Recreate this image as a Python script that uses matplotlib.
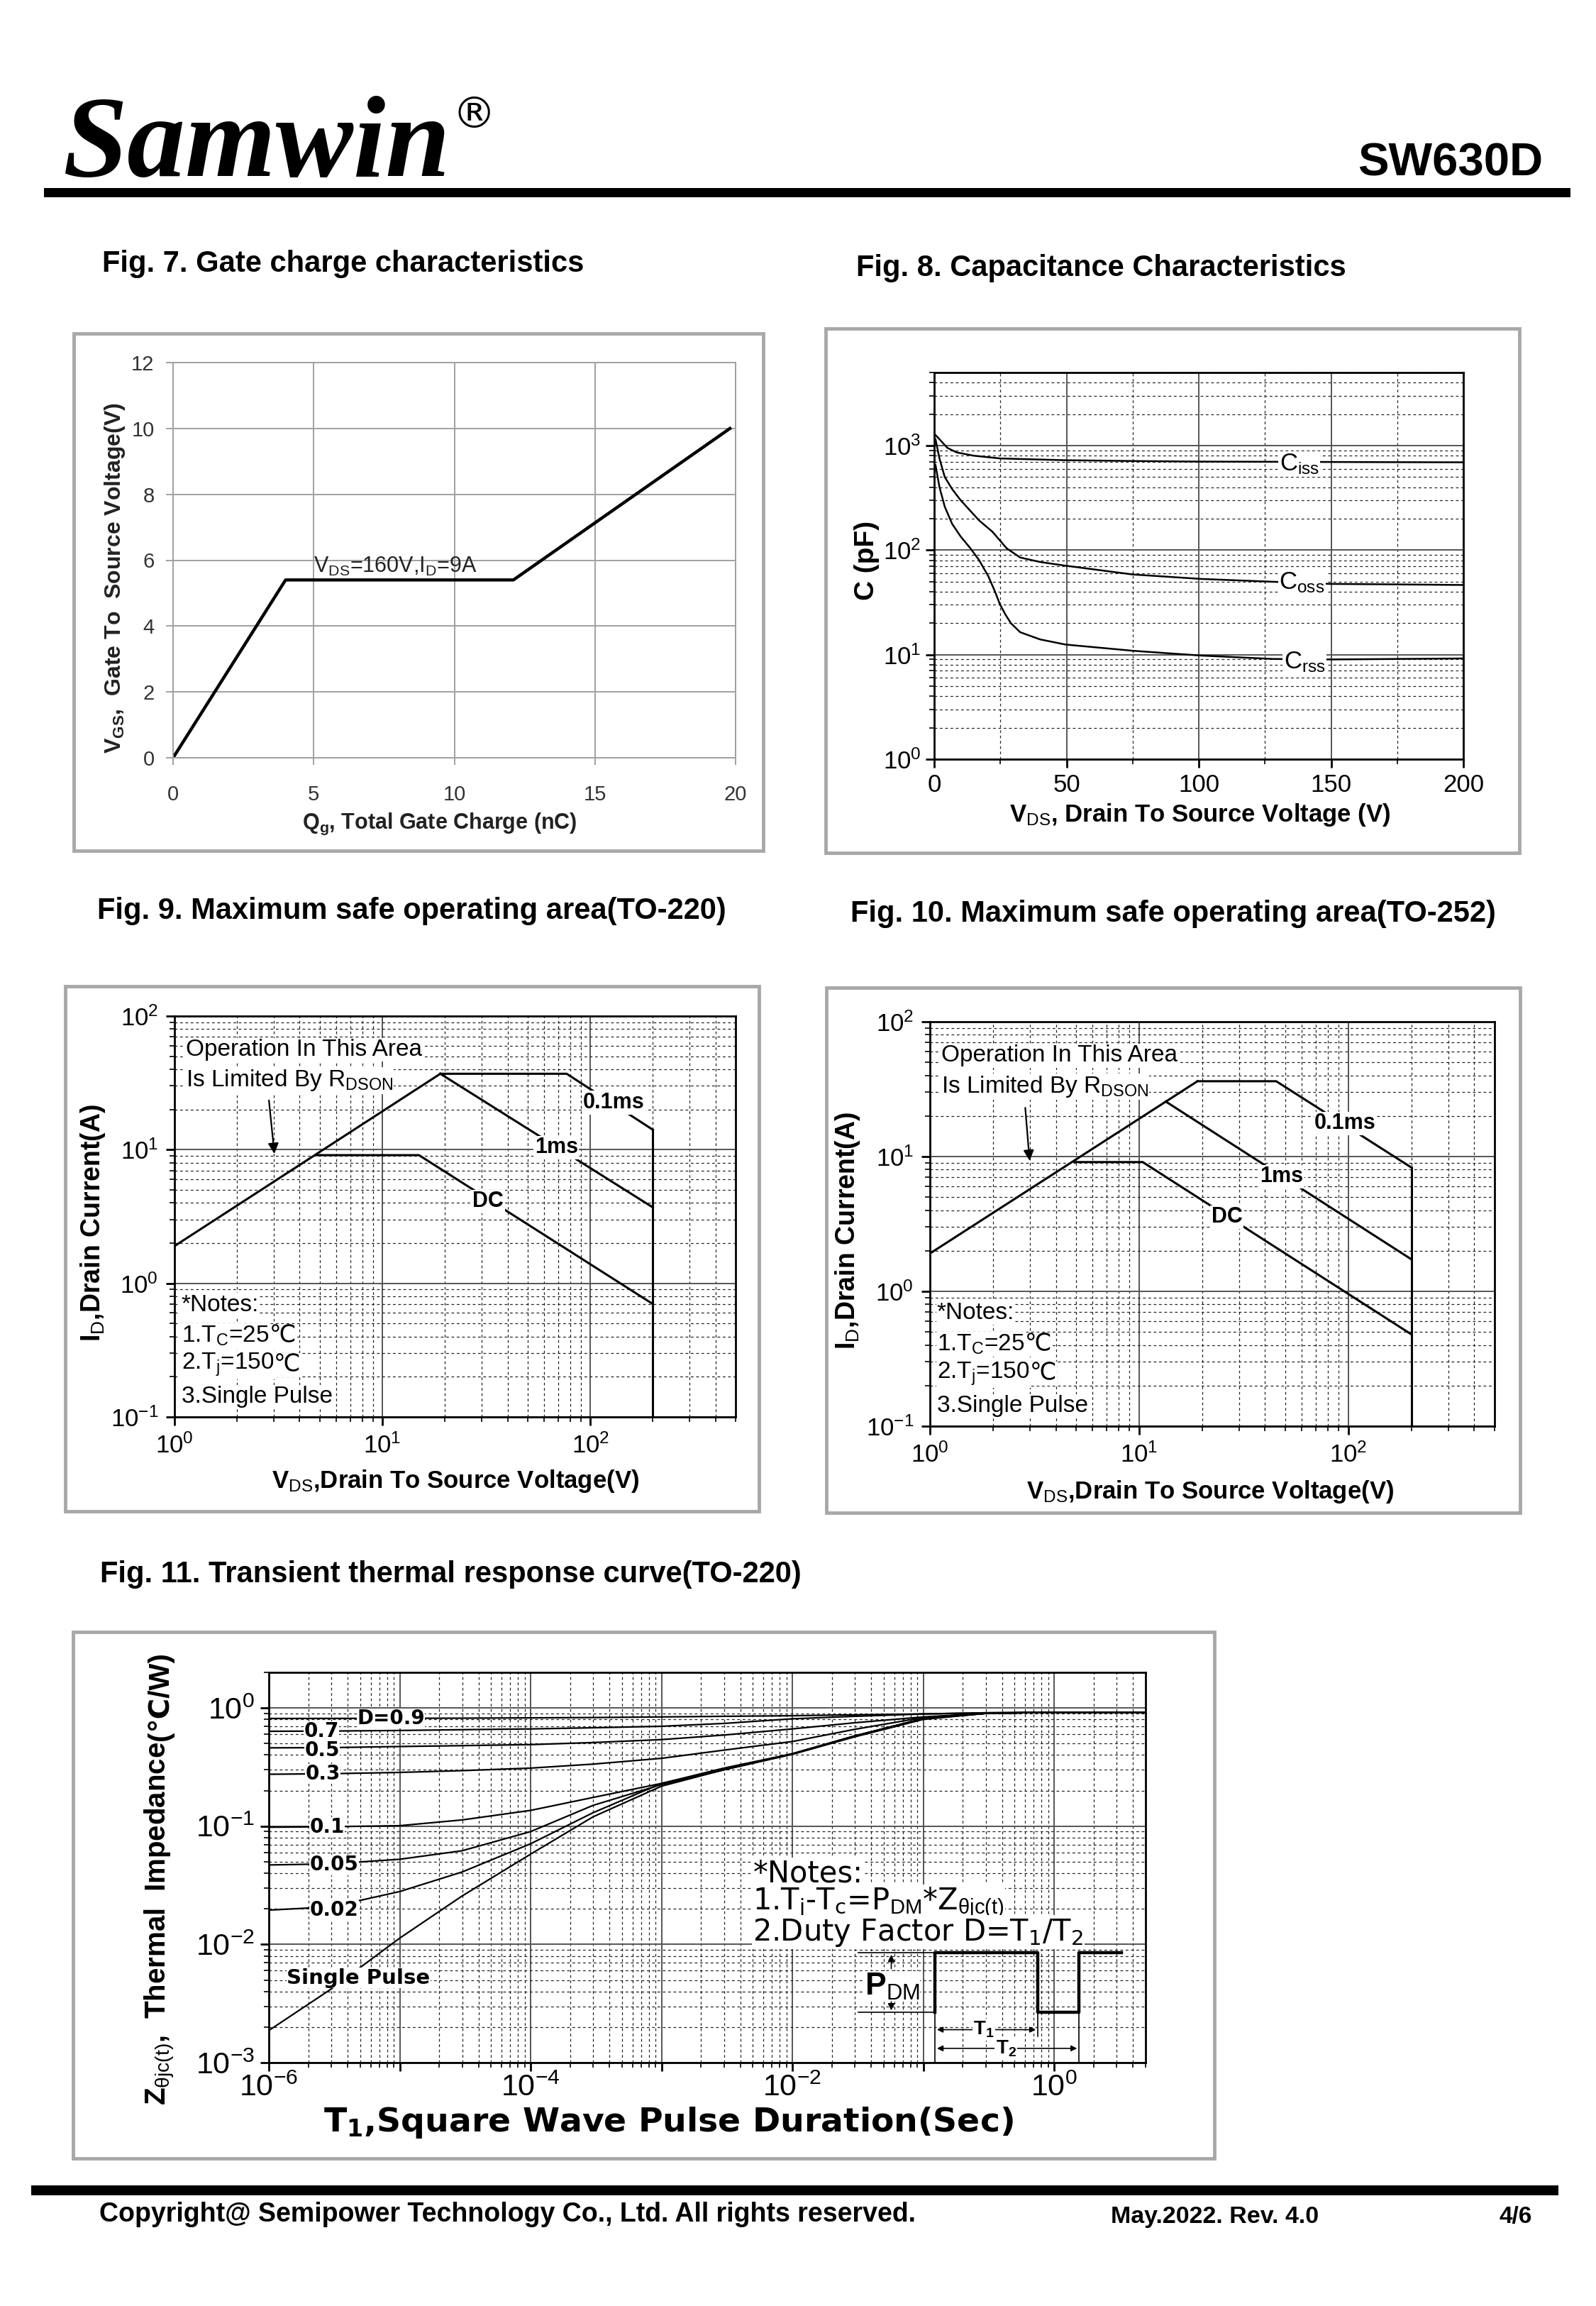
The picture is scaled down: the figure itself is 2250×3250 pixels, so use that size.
import numpy as np
import matplotlib
matplotlib.use('Agg')
import matplotlib.pyplot as plt
from matplotlib.patches import Rectangle
from matplotlib.ticker import LogLocator, NullFormatter, MultipleLocator

# ---- data ----
# Fig. 7 gate charge
qg = [0, 4.0, 12.1, 19.8]
vgs = [0, 5.4, 5.4, 10.0]

# Fig. 8 capacitance (V, pF)
ciss_v = [0.5, 2, 5, 8.5, 15, 25, 50, 75, 100, 130, 150, 175, 200]
ciss_c = [1260, 1150, 950, 860, 800, 753, 724, 712, 703, 700, 697, 694, 692]
coss_v = [0.5, 2, 4, 6.8, 10, 17, 22, 27.4, 32.5, 40, 49.6, 75, 101, 126.5, 150, 175, 200]
coss_c = [1150, 750, 500, 383, 300, 192, 150, 104, 85, 77, 71, 58.5, 53, 50, 47.5, 47, 46.4]
crss_v = [0.5, 2, 4, 6.8, 10, 13.7, 17, 20.5, 23, 24.8, 27, 29, 32.5, 40, 49.6, 75, 101, 128, 150, 175, 200]
crss_c = [650, 400, 260, 178, 135, 104, 80, 56, 40, 30.5, 24, 20, 16.4, 14, 12.5, 10.9, 9.8, 9.1, 9.0, 9.1, 9.2]

# Fig. 9 SOA TO-220 (V, A)
s9_rds_v, s9_rds_i = [1, 19], [1.9, 37]
s9_p01_v, s9_p01_i = [19, 77, 200], [37, 37, 14.1]
s9_p1_v, s9_p1_i = [19, 200], [37, 3.7]
s9_dc_v, s9_dc_i = [4.8, 15, 200], [9.1, 9.1, 0.7]

# Fig. 10 SOA TO-252 (V, A)
s10_rds_v, s10_rds_i = [1, 19], [1.91, 36.2]
s10_p01_v, s10_p01_i = [19, 45.2, 200], [36.2, 36.2, 8.3]
s10_p1_v, s10_p1_i = [13.4, 200], [25.6, 1.73]
s10_dc_v, s10_dc_i = [4.9, 10.4, 200], [9.1, 9.1, 0.48]

# Fig. 11 transient thermal impedance
t_pulse = [1e-6, 3e-6, 1e-5, 3e-5, 1e-4, 3e-4, 1e-3, 3e-3, 1e-2, 3e-2, 1e-1, 3e-1, 1, 5]
z_d09 = [0.815, 0.816, 0.818, 0.82, 0.825, 0.83, 0.84, 0.85, 0.86, 0.875, 0.89, 0.91, 0.92, 0.92]
z_d07 = [0.635, 0.638, 0.645, 0.655, 0.665, 0.68, 0.70, 0.74, 0.81, 0.85, 0.89, 0.91, 0.92, 0.92]
z_d05 = [0.46, 0.462, 0.472, 0.48, 0.49, 0.51, 0.54, 0.59, 0.665, 0.75, 0.84, 0.90, 0.92, 0.92]
z_d03 = [0.275, 0.278, 0.285, 0.295, 0.31, 0.335, 0.375, 0.44, 0.52, 0.66, 0.83, 0.90, 0.92, 0.92]
z_d01 = [0.098, 0.099, 0.101, 0.113, 0.136, 0.175, 0.23, 0.31, 0.41, 0.58, 0.815, 0.90, 0.92, 0.92]
z_d005 = [0.047, 0.048, 0.0525, 0.062, 0.090, 0.15, 0.225, 0.30, 0.41, 0.58, 0.81, 0.90, 0.92, 0.92]
z_d002 = [0.0195, 0.0208, 0.028, 0.041, 0.071, 0.13, 0.23, 0.30, 0.41, 0.58, 0.81, 0.90, 0.92, 0.92]
z_single = [0.00187, 0.0042, 0.0113, 0.0257, 0.058, 0.12, 0.218, 0.30, 0.405, 0.57, 0.80, 0.90, 0.92, 0.92]
z_curves = [z_d09, z_d07, z_d05, z_d03, z_d01, z_d005, z_d002, z_single]
z_names = ['D=0.9', '0.7', '0.5', '0.3', '0.1', '0.05', '0.02', 'Single Pulse']
z_label_t = [4.7e-6, 1.85e-6, 1.87e-6, 1.9e-6, 2.05e-6, 2.05e-6, 2.05e-6, 1.37e-6]
z_label_z = [0.813, 0.634, 0.44, 0.277, 0.098, 0.047, 0.0195, 0.0052]

z_xticks = [1e-6, 1e-5, 1e-4, 1e-3, 1e-2, 1e-1, 1]
z_xticklabels = ['$10^{-6}$', '', '$10^{-4}$', '', '$10^{-2}$', '', '$10^{0}$']
z_yticks = [1e-3, 1e-2, 1e-1, 1]
z_yticklabels = ['$10^{-3}$', '$10^{-2}$', '$10^{-1}$', '$10^{0}$']

# ---- fonts ----
plt.rcParams['font.family'] = ['Liberation Sans', 'DejaVu Sans']
plt.rcParams['mathtext.fontset'] = 'custom'
plt.rcParams['mathtext.rm'] = 'Liberation Sans'
plt.rcParams['mathtext.bf'] = 'Liberation Sans:bold'
plt.rcParams['mathtext.it'] = 'Liberation Sans:italic'
plt.rcParams['mathtext.default'] = 'regular'

W, H = 2250, 3250
fig = plt.figure(figsize=(W / 100, H / 100), dpi=100)


def fx(x):
    return x / W


def fy(y):
    return 1 - y / H


def add_ax(l, t, r, b):
    return fig.add_axes([l / W, 1 - b / H, (r - l) / W, (b - t) / H])


def frame(l, t, r, b):
    fig.add_artist(Rectangle((l / W, 1 - b / H), (r - l) / W, (b - t) / H,
                             transform=fig.transFigure, fill=False, ec='#a8a8a8', lw=3.5))


def log_grid(ax, xlog=True):
    ax.grid(True, which='major', color='#555555', lw=1.4, ls='-')
    ax.grid(True, which='minor', color='#222222', lw=0.9, ls=(0, (3, 3)))
    ax.set_axisbelow(True)
    for s in ax.spines.values():
        s.set_linewidth(2)
    ax.yaxis.set_minor_locator(LogLocator(base=10, subs=np.arange(2, 10), numticks=30))
    ax.yaxis.set_minor_formatter(NullFormatter())
    if xlog:
        ax.xaxis.set_minor_locator(LogLocator(base=10, subs=np.arange(2, 10), numticks=30))
        ax.xaxis.set_minor_formatter(NullFormatter())
    ax.tick_params(which='minor', length=5, width=1.2)
    ax.tick_params(which='major', length=8.5, width=2)


white = dict(fc='white', ec='none', pad=1.0)
tight = dict(fc='white', ec='none', pad=0.2)

# ---- header ----
fig.text(fx(88), fy(248), 'Samwin', family='Liberation Serif', weight='bold', style='italic',
         fontsize=118, ha='left', va='baseline')
fig.text(fx(638), fy(180), '®', family='DejaVu Sans', fontsize=44, ha='left', va='baseline')
fig.text(fx(2175), fy(247), 'SW630D', weight='bold', fontsize=47, ha='right', va='baseline')
fig.add_artist(Rectangle((fx(62), fy(278)), (2214 - 62) / W, 13 / H, transform=fig.transFigure,
                         fc='black', ec='none'))

# ---- titles ----
fig.text(fx(144), fy(372), 'Fig. 7. Gate charge characteristics', weight='bold', fontsize=30, va='center')
fig.text(fx(1207), fy(378), 'Fig. 8. Capacitance Characteristics', weight='bold', fontsize=30, va='center')
fig.text(fx(137), fy(1284), 'Fig. 9. Maximum safe operating area(TO-220)', weight='bold', fontsize=30, va='center')
fig.text(fx(1199), fy(1288), 'Fig. 10. Maximum safe operating area(TO-252)', weight='bold', fontsize=30, va='center')
fig.text(fx(141), fy(2219), 'Fig. 11. Transient thermal response curve(TO-220)', weight='bold', fontsize=30, va='center')

# ---- Fig. 7 ----
frame(104, 470, 1076, 1199)
ax7 = add_ax(244, 511, 1037, 1068)
ax7.plot(qg, vgs, color='black', lw=3.2)
ax7.set_xlim(0, 20)
ax7.set_ylim(0, 12)
ax7.set_xticks([0, 5, 10, 15, 20])
ax7.set_yticks([0, 2, 4, 6, 8, 10, 12])
ax7.grid(True, color='#a0a0a0', lw=1.4)
ax7.set_axisbelow(True)
for s in ax7.spines.values():
    s.set_color('#a0a0a0')
    s.set_linewidth(1.4)
ax7.tick_params(length=7, width=1.4, color='#a0a0a0', labelsize=21, labelcolor='#333333')
ax7.tick_params(axis='y', pad=12)
ax7.tick_params(axis='x', pad=20)
ax7.text(5.0, 5.62, 'V$_{DS}$=160V,I$_{D}$=9A', fontsize=22, color='#222222', va='baseline')
fig.text(fx(162), fy(815), 'V$_{GS}$,  Gate To  Source Voltage(V)', rotation=90, weight='bold',
         fontsize=23, color='#222222', ha='center', va='center')
fig.text(fx(620), fy(1168), 'Q$_{g}$, Total Gate Charge (nC)', weight='bold', fontsize=22,
         color='#222222', ha='center', va='baseline')

# ---- Fig. 8 ----
frame(1164, 463, 2142, 1202)
ax8 = add_ax(1317, 525, 2063, 1070)
ax8.set_yscale('log')
ax8.plot(ciss_v, ciss_c, color='black', lw=1.8)
ax8.plot(coss_v, coss_c, color='black', lw=1.8)
ax8.plot(crss_v, crss_c, color='black', lw=1.8)
ax8.set_xlim(0, 200)
ax8.set_ylim(1, 5000)
ax8.set_xticks([0, 50, 100, 150, 200])
ax8.xaxis.set_minor_locator(MultipleLocator(25))
ax8.set_yticks([1, 10, 100, 1000])
log_grid(ax8, xlog=False)
ax8.tick_params(which='major', labelsize=25)
ax8.tick_params(axis='y', pad=5)
ax8.tick_params(axis='x', pad=6)
ax8.text(138, 665, 'C$_{\\rm iss}$', fontsize=25, ha='center', va='center', bbox=white)
ax8.text(139, 49, 'C$_{\\rm oss}$', fontsize=25, ha='center', va='center', bbox=white)
ax8.text(140, 8.45, 'C$_{\\rm rss}$', fontsize=25, ha='center', va='center', bbox=white)
fig.text(fx(1222), fy(790), 'C (pF)', rotation=90, weight='bold', fontsize=28, ha='center', va='center')
fig.text(fx(1692), fy(1158), 'V$_{\\rm DS}$, Drain To Source Voltage (V)', weight='bold', fontsize=25,
         ha='center', va='baseline')


# ---- Fig. 9 / Fig. 10 ----
def deg_text(ax, x, y, txt, size):
    # the degree Celsius sign stays plain text so the font fallback can find it
    t = ax.text(x, y, txt, fontsize=size, va='center', bbox=white)
    ax.annotate('℃', xy=(1, 0.5), xycoords=t, fontsize=size, ha='left', va='center', bbox=white)


def soa(ax, rds_v, rds_i, p01_v, p01_i, p1_v, p1_i, dc_v, dc_i, lab01, lab1, labdc, arrow):
    ax.set_xscale('log')
    ax.set_yscale('log')
    for xv, yv in [(rds_v, rds_i), (p01_v, p01_i), (p1_v, p1_i), (dc_v, dc_i)]:
        ax.plot(xv, yv, color='black', lw=2.2)
    ax.plot([p01_v[-1], p01_v[-1]], [p01_i[-1], 0.1], color='black', lw=2.2)
    ax.set_xlim(1, 500)
    ax.set_ylim(0.1, 100)
    log_grid(ax)
    ax.tick_params(which='major', labelsize=25)
    ax.tick_params(axis='y', pad=8)
    ax.tick_params(axis='x', pad=8)
    ax.text(lab01[0], lab01[1], '0.1ms', weight='bold', fontsize=22, ha='center', va='center', bbox=white)
    ax.text(lab1[0], lab1[1], '1ms', weight='bold', fontsize=22, ha='center', va='center', bbox=white)
    ax.text(labdc[0], labdc[1], 'DC', weight='bold', fontsize=22, ha='center', va='center', bbox=white)
    ax.text(1.13, 56, 'Operation In This Area', fontsize=24, va='center', bbox=white)
    ax.text(1.13, 33, 'Is Limited By R$_{\\rm DSON}$', fontsize=24, va='center', bbox=white)
    ax.annotate('', xy=arrow[1], xytext=arrow[0],
                arrowprops=dict(arrowstyle='-|>', color='black', lw=1.6, mutation_scale=22))
    ax.text(1.08, 0.69, '*Notes:', fontsize=24, va='center', bbox=white)
    deg_text(ax, 1.08, 0.404, '1.T$_{C}$=25', 24)
    deg_text(ax, 1.08, 0.245, '2.T$_{j}$=150', 24)
    ax.text(1.08, 0.141, '3.Single Pulse', fontsize=24, va='center', bbox=white)


frame(92, 1390, 1070, 2130)
ax9 = add_ax(246, 1432, 1037, 1997)
soa(ax9, s9_rds_v, s9_rds_i, s9_p01_v, s9_p01_i, s9_p1_v, s9_p1_i, s9_dc_v, s9_dc_i,
    (130, 22.5), (68.7, 10.4), (32.3, 4.1), ((2.84, 24.2), (3.03, 9.0)))
fig.text(fx(131), fy(1723), 'I$_{\\rm D}$,Drain Current(A)', rotation=90, weight='bold', fontsize=27,
         ha='center', va='center')
fig.text(fx(642), fy(2097), 'V$_{\\rm DS}$,Drain To Source Voltage(V)', weight='bold', fontsize=25,
         ha='center', va='baseline')

frame(1165, 1392, 2143, 2132)
ax10 = add_ax(1311, 1440, 2107, 2010)
soa(ax10, s10_rds_v, s10_rds_i, s10_p01_v, s10_p01_i, s10_p1_v, s10_p1_i, s10_dc_v, s10_dc_i,
    (96.6, 17.6), (47.9, 7.1), (26.3, 3.55), ((2.85, 23.8), (3.0, 9.0)))
fig.text(fx(1195), fy(1734), 'I$_{\\rm D}$,Drain Current(A)', rotation=90, weight='bold', fontsize=27,
         ha='center', va='center')
fig.text(fx(1706), fy(2112), 'V$_{\\rm DS}$,Drain To Source Voltage(V)', weight='bold', fontsize=25,
         ha='center', va='baseline')

# ---- Fig. 11 ----
frame(103, 2300, 1712, 3042)
ax11 = add_ax(379, 2357, 1615, 2907)
ax11.set_xscale('log')
ax11.set_yscale('log')
for zc in z_curves:
    ax11.plot(t_pulse, zc, color='black', lw=1.6)
ax11.set_xlim(1e-6, 5)
ax11.set_ylim(1e-3, 2)
log_grid(ax11)
ax11.set_xticks(z_xticks)
ax11.set_xticklabels(z_xticklabels)
ax11.set_yticks(z_yticks)
ax11.set_yticklabels(z_yticklabels)
ax11.tick_params(which='major', labelsize=31)
ax11.tick_params(axis='y', pad=6)
ax11.tick_params(axis='x', pad=3)
for name, tx, zy in zip(z_names, z_label_t, z_label_z):
    fs = 21 if name == 'Single Pulse' else 20
    ax11.text(tx, zy, name, family='DejaVu Sans', weight='bold', fontsize=fs, va='center', bbox=tight)
for txt, zy in [('*Notes:', 0.040), ('1.T$_{j}$-T$_{c}$=P$_{\\rm DM}$*Z$_{\\rm θjc(t)}$', 0.0224),
                ('2.Duty Factor D=T$_{1}$/T$_{2}$', 0.0127)]:
    ax11.text(0.005, zy, txt, family='DejaVu Sans', fontsize=30, va='center', bbox=white)

# pulse sketch
low, high = 0.00266, 0.0085
xr1, xf, xr2, xend, x0 = 0.123, 0.75, 1.55, 3.27, 0.032
ax11.plot([xr1, xr1, xf, xf, xr2, xr2, xend], [low, high, high, low, low, high, high],
          color='black', lw=3.2, zorder=5)
ax11.plot([x0, xr1], [high, high], color='black', lw=1.2, zorder=5)
ax11.plot([x0, xr1], [low, low], color='black', lw=1.2, zorder=5)
ax11.plot([xr1, xr1], [low, 0.001], color='black', lw=1.2, zorder=5)
ax11.plot([xf, xf], [low, 0.00167], color='black', lw=1.2, zorder=5)
ax11.plot([xr2, xr2], [low, 0.001], color='black', lw=1.2, zorder=5)
ax11.annotate('', xy=(0.057, high), xytext=(0.057, 0.006),
              arrowprops=dict(arrowstyle='-|>', color='black', lw=1.2, mutation_scale=14), zorder=5)
ax11.annotate('', xy=(0.057, low), xytext=(0.057, 0.0034),
              arrowprops=dict(arrowstyle='-|>', color='black', lw=1.2, mutation_scale=14), zorder=5)
ax11.text(0.058, 0.0044, 'P$_{\\rm DM}$', weight='bold', fontsize=32, ha='center', va='center', bbox=tight)
ax11.annotate('', xy=(xr1, 0.0019), xytext=(xf, 0.0019),
              arrowprops=dict(arrowstyle='<|-|>', color='black', lw=1.2, mutation_scale=12), zorder=5)
ax11.annotate('', xy=(xr1, 0.00132), xytext=(xr2, 0.00132),
              arrowprops=dict(arrowstyle='<|-|>', color='black', lw=1.2, mutation_scale=12), zorder=5)
ax11.text(0.29, 0.0019, 'T$_{1}$', weight='bold', fontsize=20, ha='center', va='center', bbox=white, zorder=6)
ax11.text(0.43, 0.00132, 'T$_{2}$', weight='bold', fontsize=20, ha='center', va='center', bbox=white, zorder=6)

zlab = fig.text(fx(226), fy(2710), 'Z$_{\\rm θjc(t)}$,  Thermal  Impedance ', rotation=90, weight='bold',
                fontsize=29, ha='center', va='center')
ax11.annotate('(℃/W)', xy=(0.5, 1), xycoords=zlab, rotation=90, weight='bold', fontsize=29,
              ha='center', va='bottom', annotation_clip=False)
fig.text(fx(942), fy(2992), 'T$_{1}$,Square Wave Pulse Duration(Sec)', weight='bold', fontsize=34,
         family=['DejaVu Sans'], ha='center', va='center')

# ---- footer ----
fig.add_artist(Rectangle((fx(44), fy(3094)), (2197 - 44) / W, 14 / H, transform=fig.transFigure,
                         fc='black', ec='none'))
fig.text(fx(140), fy(3121), 'Copyright@ Semipower Technology Co., Ltd. All rights reserved.',
         weight='bold', fontsize=27, va='center')
fig.text(fx(1566), fy(3124), 'May.2022. Rev. 4.0', weight='bold', fontsize=24.5, va='center')
fig.text(fx(2160), fy(3124), '4/6', weight='bold', fontsize=24, va='center', ha='right')

fig.savefig('out.png', dpi=100)
